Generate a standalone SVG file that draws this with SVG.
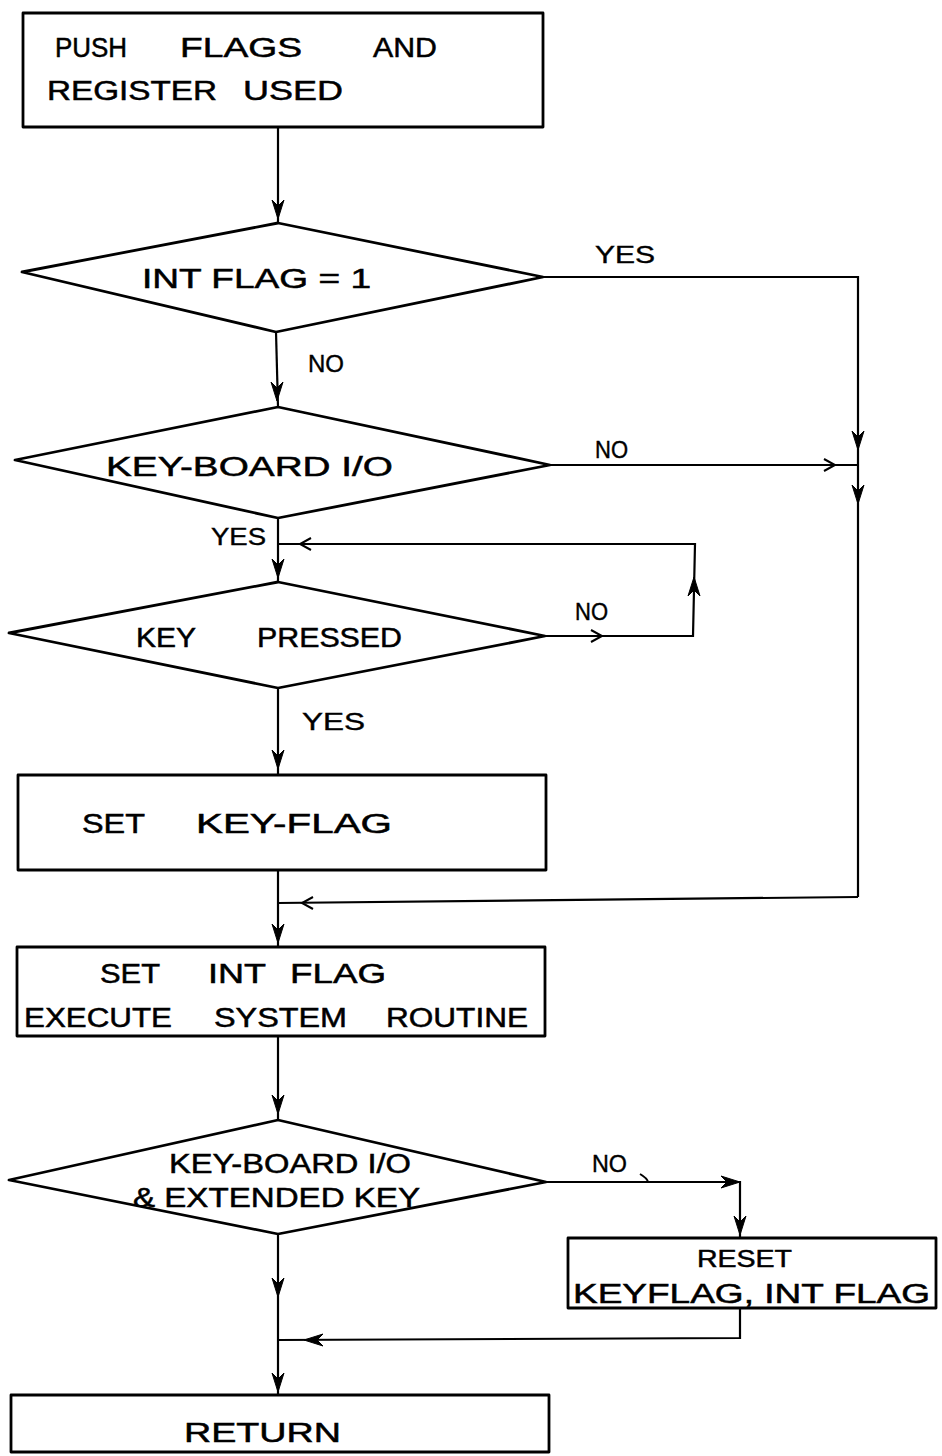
<svg xmlns="http://www.w3.org/2000/svg" xmlns:xlink="http://www.w3.org/1999/xlink" width="942" height="1456" viewBox="0 0 942 1456">
<style>
.shape{fill:none;stroke:#000;stroke-width:2.8;stroke-linejoin:round}
.conn{fill:none;stroke:#000;stroke-width:2.2}
.t{font-family:"Liberation Sans",Arial,sans-serif;font-size:27px;fill:#000;stroke:#000;stroke-width:0.5}
.lbl{font-family:"Liberation Sans",Arial,sans-serif;font-size:24px;fill:#000;stroke:#000;stroke-width:0.4}
.ah{fill:#000;stroke:#000;stroke-width:1}
.ao{fill:none;stroke:#000;stroke-width:2}
</style>
<defs>
<path id="ah" d="M0,0 L-19,-6 L-13,0 L-19,6 Z"/>
<path id="ao" d="M-11,-6 L0,0 L-11,6"/>
</defs>
<rect width="942" height="1456" fill="#fff"/>

<g id="n1">
<rect class="shape" x="23" y="13" width="520" height="114"/>
<text class="t" y="57"><tspan x="55" textLength="72" lengthAdjust="spacingAndGlyphs">PUSH</tspan><tspan x="180" textLength="122" lengthAdjust="spacingAndGlyphs">FLAGS</tspan><tspan x="373" textLength="64" lengthAdjust="spacingAndGlyphs">AND</tspan></text>
<text class="t" y="100"><tspan x="47" textLength="170" lengthAdjust="spacingAndGlyphs">REGISTER</tspan><tspan x="243" textLength="100" lengthAdjust="spacingAndGlyphs">USED</tspan></text>
</g>

<g id="d1">
<polygon class="shape" points="278,223 543,277 276,332 22,272"/>
<text class="t" x="142" y="288" textLength="229" lengthAdjust="spacingAndGlyphs">INT FLAG = 1</text>
</g>

<g id="d2">
<polygon class="shape" points="278,407 550,465 278,518 15,460"/>
<text class="t" x="106" y="476" textLength="287" lengthAdjust="spacingAndGlyphs">KEY-BOARD I/O</text>
</g>

<g id="d3">
<polygon class="shape" points="278,582 545,636 278,688 9,633"/>
<text class="t" y="647"><tspan x="136" textLength="60" lengthAdjust="spacingAndGlyphs">KEY</tspan><tspan x="257" textLength="145" lengthAdjust="spacingAndGlyphs">PRESSED</tspan></text>
</g>

<g id="n2">
<rect class="shape" x="18" y="775" width="528" height="95"/>
<text class="t" y="833"><tspan x="82" textLength="63" lengthAdjust="spacingAndGlyphs">SET</tspan><tspan x="196" textLength="196" lengthAdjust="spacingAndGlyphs">KEY-FLAG</tspan></text>
</g>

<g id="n3">
<rect class="shape" x="17" y="947" width="528" height="89"/>
<text class="t" y="983"><tspan x="100" textLength="60" lengthAdjust="spacingAndGlyphs">SET</tspan><tspan x="208" textLength="58" lengthAdjust="spacingAndGlyphs">INT</tspan><tspan x="290" textLength="96" lengthAdjust="spacingAndGlyphs">FLAG</tspan></text>
<text class="t" y="1027"><tspan x="24" textLength="148" lengthAdjust="spacingAndGlyphs">EXECUTE</tspan><tspan x="214" textLength="133" lengthAdjust="spacingAndGlyphs">SYSTEM</tspan><tspan x="386" textLength="142" lengthAdjust="spacingAndGlyphs">ROUTINE</tspan></text>
</g>

<g id="d4">
<polygon class="shape" points="278,1120 546,1182 278,1234 9,1180"/>
<text class="t" x="169" y="1173" textLength="242" lengthAdjust="spacingAndGlyphs">KEY-BOARD I/O</text>
<text class="t" x="133" y="1207" textLength="287" lengthAdjust="spacingAndGlyphs">&amp; EXTENDED KEY</text>
</g>

<g id="n4">
<rect class="shape" x="568" y="1238" width="368" height="70"/>
<text class="t" x="697" y="1267" textLength="95" lengthAdjust="spacingAndGlyphs" style="font-size:24px">RESET</text>
<text class="t" x="573" y="1303" textLength="357" lengthAdjust="spacingAndGlyphs">KEYFLAG, INT FLAG</text>
</g>

<g id="n5">
<rect class="shape" x="11" y="1395" width="538" height="57"/>
<text class="t" x="184" y="1442" textLength="157" lengthAdjust="spacingAndGlyphs">RETURN</text>
</g>

<g id="connectors">
<line class="conn" x1="278" y1="127" x2="278" y2="223"/>
<use href="#ah" class="ah" transform="translate(278,219) rotate(90)"/>

<polyline class="conn" points="543,277 858,277 858,897"/>
<use href="#ah" class="ah" transform="translate(858,450) rotate(90)"/>
<use href="#ah" class="ah" transform="translate(858,504) rotate(90)"/>

<line class="conn" x1="276" y1="332" x2="278" y2="407"/>
<use href="#ah" class="ah" transform="translate(277,401) rotate(90)"/>

<line class="conn" x1="550" y1="465" x2="858" y2="465"/>
<use href="#ao" class="ao" transform="translate(835,465)"/>

<line class="conn" x1="278" y1="518" x2="278" y2="582"/>
<use href="#ah" class="ah" transform="translate(278,578) rotate(90)"/>

<polyline class="conn" points="545,636 693,636 695,544 278,544"/>
<use href="#ao" class="ao" transform="translate(602,636)"/>
<use href="#ah" class="ah" transform="translate(694,577) rotate(-90)"/>
<use href="#ao" class="ao" transform="translate(300,544) rotate(180)"/>

<line class="conn" x1="278" y1="688" x2="278" y2="775"/>
<use href="#ah" class="ah" transform="translate(278,769) rotate(90)"/>

<line class="conn" x1="278" y1="870" x2="278" y2="947"/>
<polyline class="conn" points="858,897 278,903"/>
<use href="#ao" class="ao" transform="translate(302,903) rotate(180)"/>
<use href="#ah" class="ah" transform="translate(278,943) rotate(90)"/>

<line class="conn" x1="278" y1="1036" x2="278" y2="1120"/>
<use href="#ah" class="ah" transform="translate(278,1114) rotate(90)"/>

<polyline class="conn" points="546,1182 740,1182 740,1238"/>
<path class="ao" d="M640,1174 Q647,1178 648,1182"/>
<use href="#ah" class="ah" transform="translate(740,1182)"/>
<use href="#ah" class="ah" transform="translate(740,1235) rotate(90)"/>

<line class="conn" x1="278" y1="1234" x2="278" y2="1395"/>
<use href="#ah" class="ah" transform="translate(278,1297) rotate(90)"/>
<use href="#ah" class="ah" transform="translate(278,1392) rotate(90)"/>

<polyline class="conn" points="740,1308 740,1338 278,1340"/>
<use href="#ah" class="ah" transform="translate(304,1340) rotate(180)"/>

<g id="labels">
<text class="lbl" x="595" y="263" textLength="60" lengthAdjust="spacingAndGlyphs">YES</text>
<text class="lbl" x="308" y="372" textLength="36" lengthAdjust="spacingAndGlyphs">NO</text>
<text class="lbl" x="595" y="458" textLength="33" lengthAdjust="spacingAndGlyphs">NO</text>
<text class="lbl" x="211" y="545" textLength="55" lengthAdjust="spacingAndGlyphs">YES</text>
<text class="lbl" x="575" y="620" textLength="33" lengthAdjust="spacingAndGlyphs">NO</text>
<text class="lbl" x="302" y="730" textLength="63" lengthAdjust="spacingAndGlyphs">YES</text>
<text class="lbl" x="592" y="1172" textLength="35" lengthAdjust="spacingAndGlyphs">NO</text>
</g>
</g>
</svg>
